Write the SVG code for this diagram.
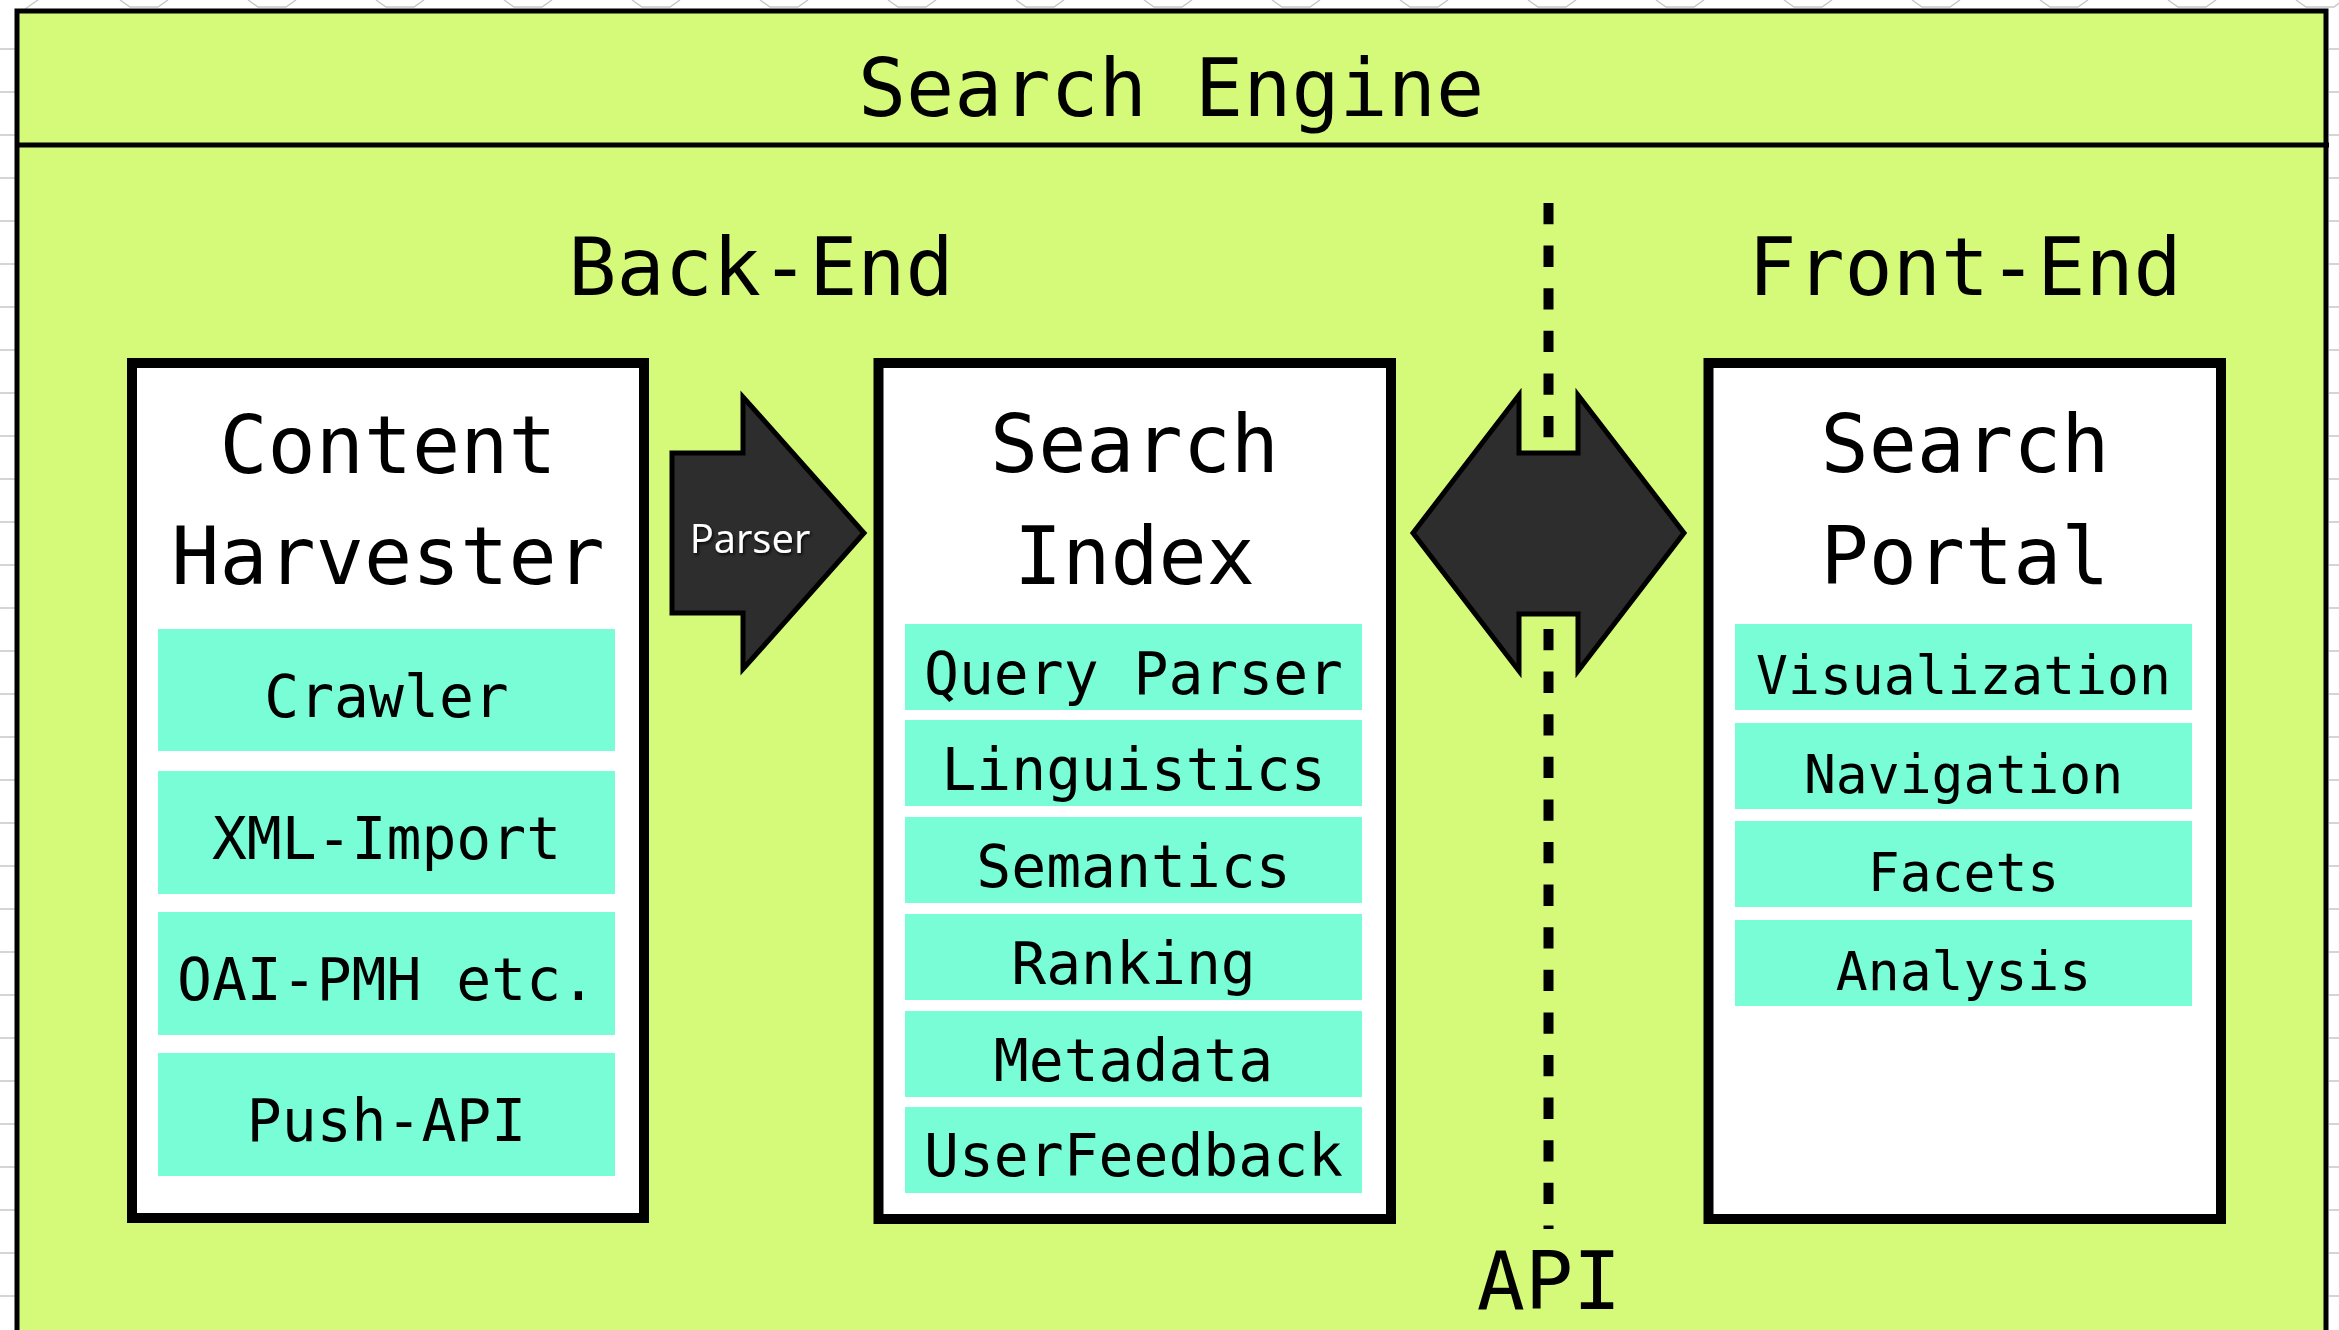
<svg xmlns="http://www.w3.org/2000/svg" width="2339" height="1330" viewBox="0 0 2339 1330">
<defs>
<style>
.mono{font-family:"DejaVu Sans Mono","Liberation Mono",monospace;fill:#000;text-anchor:middle}
.big{font-size:80px}
.item{font-size:58px}
.item-s{font-size:53px}
.box{fill:#fff;stroke:#000;stroke-width:10}
.cell{fill:#78fdd6}
.arrow{fill:#2d2d2d;stroke:#000;stroke-width:5;stroke-linejoin:miter}
.grid{stroke:#c8c8c8;stroke-width:1.5;fill:none}
</style>
<filter id="sh" x="-20%" y="-20%" width="140%" height="150%">
<feDropShadow dx="1.5" dy="2" stdDeviation="1.5" flood-color="#000" flood-opacity="0.8"/>
</filter>
</defs>
<rect x="0" y="0" width="2339" height="1330" fill="#fff"/>
<g id="background-grid" class="grid">
<path d="M0 49H15M0 92H15M0 135H15M0 178H15M0 221H15M0 264H15M0 307H15M0 350H15M0 393H15M0 436H15M0 479H15M0 522H15M0 565H15M0 608H15M0 651H15M0 694H15M0 737H15M0 780H15M0 823H15M0 866H15M0 909H15M0 952H15M0 995H15M0 1038H15M0 1081H15M0 1124H15M0 1167H15M0 1210H15M0 1253H15M0 1296H15"/>
<path d="M2329 49H2339M2329 92H2339M2329 135H2339M2329 178H2339M2329 221H2339M2329 264H2339M2329 307H2339M2329 350H2339M2329 393H2339M2329 436H2339M2329 479H2339M2329 522H2339M2329 565H2339M2329 608H2339M2329 651H2339M2329 694H2339M2329 737H2339M2329 780H2339M2329 823H2339M2329 866H2339M2329 909H2339M2329 952H2339M2329 995H2339M2329 1038H2339M2329 1081H2339M2329 1124H2339M2329 1167H2339M2329 1210H2339M2329 1253H2339M2329 1296H2339"/>
<path d="M25 9L38 0M120 0L130 7H158L168 0M248 0L258 7H286L296 0M376 0L386 7H414L424 0M504 0L514 7H542L552 0M632 0L642 7H670L680 0M760 0L770 7H798L808 0M888 0L898 7H926L936 0M1016 0L1026 7H1054L1064 0M1144 0L1154 7H1182L1192 0M1272 0L1282 7H1310L1320 0M1400 0L1410 7H1438L1448 0M1528 0L1538 7H1566L1576 0M1656 0L1666 7H1694L1704 0M1784 0L1794 7H1822L1832 0M1912 0L1922 7H1950L1960 0M2040 0L2050 7H2078L2088 0M2168 0L2178 7H2206L2216 0M2296 0L2306 7H2334L2339 3"/>
</g>
<g id="search-engine">
<rect x="17" y="11" width="2309" height="1400" fill="#d5fa7a" stroke="#000" stroke-width="5"/>
<line x1="17" y1="145" x2="2329" y2="145" stroke="#000" stroke-width="5"/>
<text class="mono big" x="1171" y="116">Search Engine</text>
<text class="mono big" x="761" y="295">Back-End</text>
<text class="mono big" x="1965" y="295">Front-End</text>
</g>
<g id="connectors">
<line id="api-line" x1="1548.5" y1="203" x2="1548.5" y2="1229" stroke="#000" stroke-width="10" stroke-dasharray="21.3 21.3"/>
<g id="parser-arrow">
<polygon class="arrow" points="672,453 743,453 743,397 864,533 743,669 743,613 672,613"/>
<text x="750" y="553" font-family="'Open Sans','Noto Sans',sans-serif" font-size="40" fill="#fff" text-anchor="middle" filter="url(#sh)">Parser</text>
</g>
<g id="api-arrow">
<polygon class="arrow" points="1413,533 1519,395 1519,453 1578,453 1578,395 1684,533 1578,671 1578,614 1519,614 1519,671"/>
</g>
<text id="api-label" class="mono big" x="1549" y="1309">API</text>
</g>
<g id="content-harvester">
<rect class="box" x="132" y="363" width="512" height="855"/>
<text class="mono big" x="388" y="473">Content</text>
<text class="mono big" x="388" y="584">Harvester</text>
<rect class="cell" x="158" y="629" width="457" height="122"/>
<text class="mono item" x="386.5" y="717">Crawler</text>
<rect class="cell" x="158" y="771" width="457" height="123"/>
<text class="mono item" x="386.5" y="859">XML-Import</text>
<rect class="cell" x="158" y="912" width="457" height="123"/>
<text class="mono item" x="386.5" y="1000">OAI-PMH etc.</text>
<rect class="cell" x="158" y="1053" width="457" height="123"/>
<text class="mono item" x="386.5" y="1141">Push-API</text>
</g>
<g id="search-index">
<rect class="box" x="878.5" y="363" width="512.5" height="856"/>
<text class="mono big" x="1134.5" y="472">Search</text>
<text class="mono big" x="1134.5" y="584">Index</text>
<rect class="cell" x="905" y="624" width="457" height="86"/>
<text class="mono item" x="1133.5" y="694">Query Parser</text>
<rect class="cell" x="905" y="720" width="457" height="86"/>
<text class="mono item" x="1133.5" y="790">Linguistics</text>
<rect class="cell" x="905" y="817" width="457" height="86"/>
<text class="mono item" x="1133.5" y="887">Semantics</text>
<rect class="cell" x="905" y="914" width="457" height="86"/>
<text class="mono item" x="1133.5" y="984">Ranking</text>
<rect class="cell" x="905" y="1011" width="457" height="86"/>
<text class="mono item" x="1133.5" y="1081">Metadata</text>
<rect class="cell" x="905" y="1107" width="457" height="86"/>
<text class="mono item" x="1133.5" y="1176">UserFeedback</text>
</g>
<g id="search-portal">
<rect class="box" x="1708.5" y="363" width="512.5" height="856"/>
<text class="mono big" x="1965" y="472">Search</text>
<text class="mono big" x="1965" y="584">Portal</text>
<rect class="cell" x="1735" y="624" width="457" height="86"/>
<text class="mono item-s" x="1963.5" y="694">Visualization</text>
<rect class="cell" x="1735" y="723" width="457" height="86"/>
<text class="mono item-s" x="1963.5" y="793">Navigation</text>
<rect class="cell" x="1735" y="821" width="457" height="86"/>
<text class="mono item-s" x="1963.5" y="891">Facets</text>
<rect class="cell" x="1735" y="920" width="457" height="86"/>
<text class="mono item-s" x="1963.5" y="990">Analysis</text>
</g>
</svg>
